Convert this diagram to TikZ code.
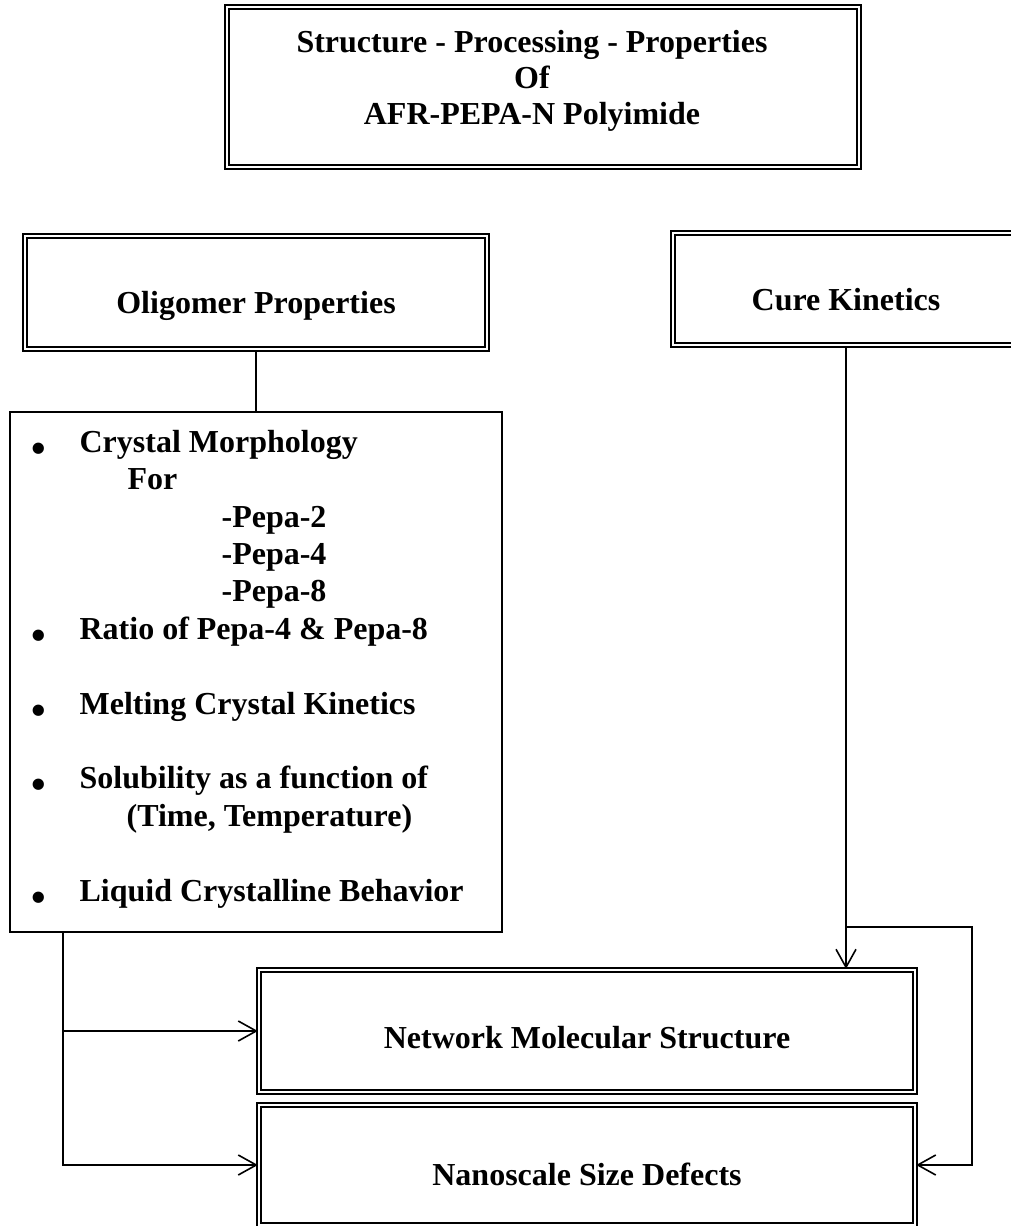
\documentclass[tikz,border=0pt]{standalone}
\usepackage{fontspec}
\setmainfont{Liberation Serif}
\usetikzlibrary{arrows.meta}

\newcommand\bigbullet{\raisebox{-5pt}{\scalebox{1.3}{\textbullet}}}

\tikzset{
  dbox/.style={draw, double, line width=1.1pt, double distance=1pt,
    inner sep=0pt, text depth=1.5pt},
  sbox/.style={draw, line width=0.8pt, inner sep=0pt},
  link/.style={line width=0.8pt},
  >={Straight Barb[length=9pt,width=10pt]}
}

\begin{document}
\begin{tikzpicture}[x=0.5pt,y=-0.5pt,
  font=\bfseries\fontsize{16}{18}\selectfont]
\useasboundingbox (0,0) rectangle (1011,1226);
\clip (0,0) rectangle (1011,1226);

% boxes
\node[dbox, minimum width=316pt, minimum height=80pt, text height=12pt, text depth=47pt]
  (title) at (543,87) {\begin{tabular}[t]{@{}c@{\hspace{11pt}}}
    Structure - Processing - Properties\\ Of\\ AFR-PEPA-N Polyimide\end{tabular}};
\node[dbox, minimum width=231pt, minimum height=56.5pt, text height=22pt]
  (olig) at (256,292.5) {Oligomer Properties};
\node[dbox, minimum width=173pt, minimum height=56pt, text height=22.5pt]
  (cure) at (846,289) {Cure Kinetics};
\node[sbox, minimum width=246pt, minimum height=260pt] (list) at (256,672) {};
\node[dbox, minimum width=328pt, minimum height=61pt, text height=18.5pt]
  (net) at (587,1031) {Network Molecular Structure};
\node[dbox, minimum width=328pt, minimum height=60pt, text height=21.5pt]
  (nano) at (587,1165) {Nanoscale Size Defects};

% list of oligomer properties
\node[anchor=base west, inner sep=0pt, font=\bfseries\fontsize{16}{18.7}\selectfont]
  (items) at ([shift={(22,41)}]list.north west) {\begin{tabular}[t]{@{}p{24pt}@{}l@{}}
  \bigbullet & Crystal Morphology\\
   & \hspace{24pt}For\\
   & \hspace{71pt}-Pepa-2\\
   & \hspace{71pt}-Pepa-4\\
   & \hspace{71pt}-Pepa-8\\
  \bigbullet & Ratio of Pepa-4 \& Pepa-8\\[18.7pt]
  \bigbullet & Melting Crystal Kinetics\\[18.7pt]
  \bigbullet & Solubility as a function of\\
   & \hspace{23.5pt}(Time, Temperature)\\[18.7pt]
  \bigbullet & Liquid Crystalline Behavior
  \end{tabular}};

% connectors
\coordinate (split) at ([yshift=-290.5pt]cure.south);
\coordinate (down) at ([xshift=27pt]list.south west);
\draw[link] (olig.south) -- (list.north);
\draw[link,->] (cure.south) -- (cure.south |- net.north);
\draw[link,->] (split) -- ++(126,0) |- (nano.east);
\draw[link,->] (down) |- (net.west);
\draw[link,->] (down) |- (nano.west);
\end{tikzpicture}
\end{document}
